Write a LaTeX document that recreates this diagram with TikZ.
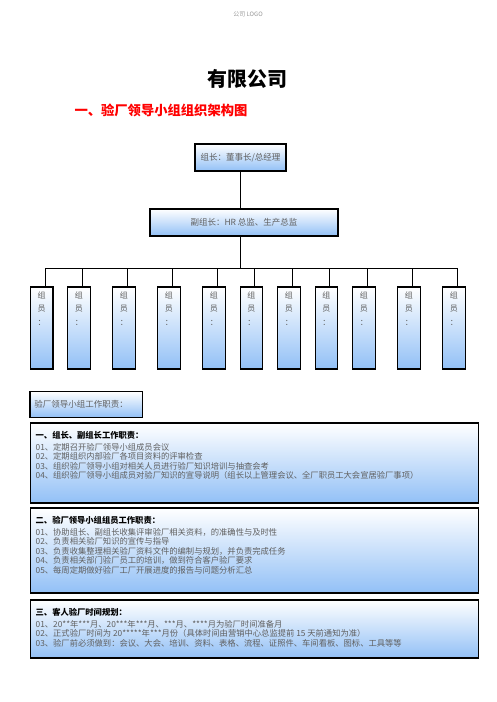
\documentclass[tikz,border=0pt]{standalone}
\usepackage{fontspec}
\newfontfamily\cjk{Noto Sans CJK SC}
\usepackage{xcolor}
\usetikzlibrary{positioning}
\definecolor{boxblue}{RGB}{146,192,246}
\definecolor{txtgray}{RGB}{95,95,95}

\begin{document}
\begin{tikzpicture}[x=1pt, y=-1pt,
  grad/.style={rectangle, draw=black, line width=1.1pt,
               top color=white, bottom color=boxblue, middle color=white!50!boxblue},
  head/.style={grad, font=\cjk\fontsize{8.5}{10}\selectfont, text=txtgray},
  mem/.style={grad, minimum width=22.5pt, minimum height=82pt, inner sep=0pt},
  memtxt/.style={font=\cjk\fontsize{8}{13.5}\selectfont, text=txtgray,
                 align=center, anchor=north, inner sep=0pt},
  duty/.style={grad, minimum width=448pt},
  dutytxt/.style={font=\cjk\fontsize{8.3}{9.5}\selectfont, text=txtgray,
                  align=left, anchor=north west, inner sep=0pt},
  conn/.style={draw=black, line width=1.1pt}
]
\useasboundingbox (0,0) rectangle (496,702);
%% Page header and titles
\node[font=\cjk\fontsize{6}{7}\selectfont, text=black!40] (logo) at (248,14) {公司 LOGO};
\node[font=\cjk\bfseries\fontsize{20}{22}\selectfont] (title) at (247,79) {有限公司};
\node[font=\cjk\bfseries\fontsize{13.3}{15}\selectfont, text=red] (sub) at (161,110)
  {一、验厂领导小组组织架构图};
%% Leaders
\node[head, minimum width=91pt, minimum height=27pt] (lead) at (240.5,157.5)
  {组长：董事长/总经理};
\node[head, minimum width=188pt, minimum height=27pt] (vice) at (244,222.5)
  {副组长：HR 总监、生产总监};
\draw[conn] (lead.south) -- (lead.south |- vice.north);
\draw[conn] (lead.south |- vice.south) -- ++(0,32) coordinate (bus);
%% Members
\foreach \i/\x in {1/41.7, 2/78.8, 3/123.8, 4/168.8, 5/213.8, 6/251.3,
                   7/288.8, 8/326.3, 9/363.8, 10/408.8, 11/453.8}{
  \node[mem] (m\i) at (\x,328) {};
  \node[memtxt] (mt\i) at ([yshift=-5pt]m\i.north) {组\\员\\：};
  \draw[conn] ([xshift=3.5pt]m\i.north) |- (bus);
}
%% Duties
\node[head, minimum width=112.7pt, minimum height=25.6pt, text width=104pt, align=left]
  (lbl) at (86.3,404.5) {验厂领导小组工作职责：};
\node[duty, minimum height=80pt] (d1) at (254.5,463) {};
\node[dutytxt] (t1) at ([xshift=5.5pt,yshift=-8.5pt]d1.north west)
  {\textbf{\color{black}一、组长、副组长工作职责：}\\[2.2pt]
   01、定期召开验厂领导小组成员会议\\
   02、定期组织内部验厂各项目资料的评审检查\\
   03、组织验厂领导小组对相关人员进行验厂知识培训与抽查会考\\
   04、组织验厂领导小组成员对验厂知识的宣导说明（组长以上管理会议、全厂职员工大会宣居验厂事项）};
\node[duty, minimum height=85pt] (d2) at (254.5,550.5) {};
\node[dutytxt] (t2) at ([xshift=5.5pt,yshift=-9pt]d2.north west)
  {\textbf{\color{black}二、验厂领导小组组员工作职责：}\\[1.8pt]
   01、协助组长、副组长收集评审验厂相关资料，的准确性与及时性\\
   02、负责相关验厂知识的宣传与指导\\
   03、负责收集整理相关验厂资料文件的编制与规划，并负责完成任务\\
   04、负责相关部门验厂员工的培训，做到符合客户验厂要求\\
   05、每周定期做好验厂工厂开展进度的报告与问题分析汇总};
\node[duty, minimum height=58pt] (d3) at (254.5,629) {};
\node[dutytxt] (t3) at ([xshift=5.5pt,yshift=-9pt]d3.north west)
  {\textbf{\color{black}三、客人验厂时间规划：}\\[1.8pt]
   01、20**年***月、20***年***月、***月、****月为验厂时间准备月\\
   02、正式验厂时间为 20*****年***月份（具体时间由营销中心总监提前 15 天前通知为准）\\
   03、验厂前必须做到：会议、大会、培训、资料、表格、流程、证照件、车间看板、图标、工具等等};
\end{tikzpicture}
\end{document}
